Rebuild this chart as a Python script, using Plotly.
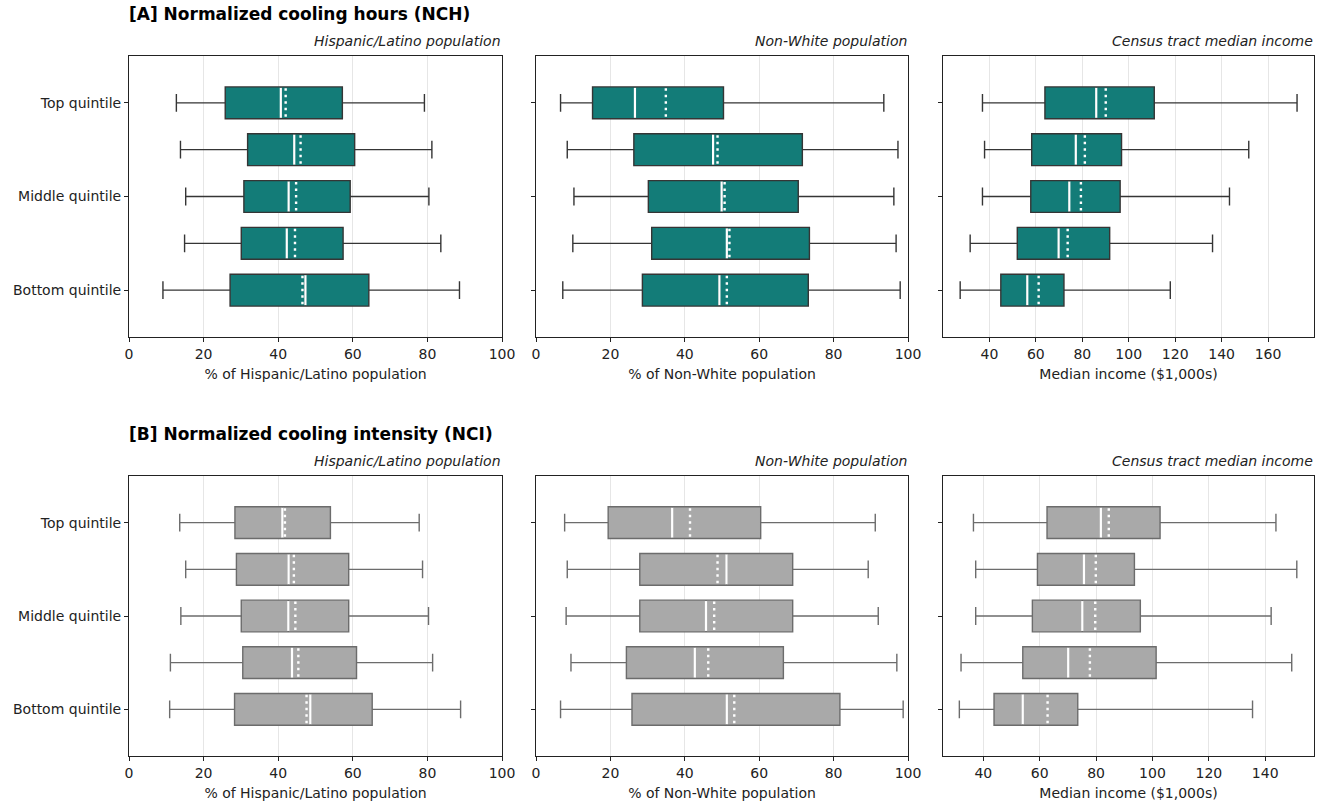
import plotly.graph_objects as go

# ---------------- data ----------------
positions = [1, 2, 3, 4, 5]  # Top quintile ... Bottom quintile
tick_pos = [1, 3, 5]
tick_labels = ["Top quintile", "Middle quintile", "Bottom quintile"]

# [A] NCH - Hispanic/Latino
a_hisp_low = [12.7, 13.8, 15.2, 14.9, 9.1]
a_hisp_q1 = [25.8, 31.8, 30.8, 30.1, 27.1]
a_hisp_med = [40.7, 44.3, 42.8, 42.3, 47.3]
a_hisp_mean = [42.0, 46.0, 44.8, 44.5, 46.5]
a_hisp_q3 = [57.2, 60.5, 59.3, 57.4, 64.3]
a_hisp_high = [79.2, 81.2, 80.4, 83.6, 88.6]

# [A] NCH - Non-White
a_nw_low = [6.6, 8.4, 10.2, 9.9, 7.2]
a_nw_q1 = [15.2, 26.3, 30.2, 31.1, 28.6]
a_nw_med = [26.6, 47.6, 49.9, 51.3, 49.3]
a_nw_mean = [34.9, 48.8, 50.7, 52.0, 51.3]
a_nw_q3 = [50.4, 71.6, 70.5, 73.5, 73.2]
a_nw_high = [93.5, 97.3, 96.2, 96.8, 97.9]

# [A] NCH - Median income
a_inc_low = [37.0, 37.9, 37.0, 31.7, 27.4]
a_inc_q1 = [63.9, 58.2, 57.8, 52.0, 44.9]
a_inc_med = [86.0, 77.2, 74.4, 69.8, 56.3]
a_inc_mean = [90.1, 81.1, 79.4, 73.7, 61.2]
a_inc_q3 = [111.0, 96.9, 96.3, 91.8, 72.1]
a_inc_high = [172.5, 151.7, 143.4, 136.1, 117.9]

# [B] NCI - Hispanic/Latino
b_hisp_low = [13.6, 15.2, 13.9, 11.1, 10.9]
b_hisp_q1 = [28.4, 28.8, 30.1, 30.5, 28.3]
b_hisp_med = [41.1, 42.8, 42.7, 43.7, 48.6]
b_hisp_mean = [41.8, 44.2, 44.6, 45.4, 47.6]
b_hisp_q3 = [54.0, 58.9, 58.9, 61.0, 65.2]
b_hisp_high = [77.8, 78.7, 80.3, 81.4, 88.9]

# [B] NCI - Non-White
b_nw_low = [7.7, 8.4, 8.1, 9.4, 6.6]
b_nw_q1 = [19.4, 27.9, 27.9, 24.3, 25.8]
b_nw_med = [36.6, 51.2, 45.7, 42.7, 51.3]
b_nw_mean = [41.4, 48.8, 47.9, 46.3, 53.3]
b_nw_q3 = [60.4, 69.0, 69.0, 66.5, 81.7]
b_nw_high = [91.2, 89.3, 92.0, 97.0, 98.7]

# [B] NCI - Median income
b_inc_low = [36.5, 37.3, 37.3, 32.1, 31.5]
b_inc_q1 = [62.6, 59.2, 57.4, 54.0, 43.8]
b_inc_med = [81.7, 75.7, 75.1, 70.1, 54.0]
b_inc_mean = [84.5, 79.9, 79.7, 77.8, 62.8]
b_inc_q3 = [102.7, 93.6, 95.7, 101.3, 73.5]
b_inc_high = [143.8, 151.2, 142.1, 149.4, 135.5]

panel_titles = ["Hispanic/Latino population", "Non-White population", "Census tract median income"]
x_titles = ["% of Hispanic/Latino population", "% of Non-White population", "Median income ($1,000s)"]
row_titles = ["[A] Normalized cooling hours (NCH)", "[B] Normalized cooling intensity (NCI)"]

# ---------------- style ----------------
FONT = "DejaVu Sans"
W, H = 1325, 804
TEAL = "#137C78"
TEAL_LINE = "#353535"
GRAY = "#A9A9A9"
GRAY_LINE = "#6c6c6c"
BOX_W = 0.68
FS = 14

col_px = [(129, 502), (536, 908), (943, 1314)]
row_px = [(56, 337), (476, 756)]
x_ranges = [[0, 100], [0, 100], [20.0, 179.8], [0, 100], [0, 100], [25.7, 157.3]]
x_ticks = [[0, 20, 40, 60, 80, 100], [0, 20, 40, 60, 80, 100], [40, 60, 80, 100, 120, 140, 160],
           [0, 20, 40, 60, 80, 100], [0, 20, 40, 60, 80, 100], [40, 60, 80, 100, 120, 140]]


def px_x(p):
    return p / W


def px_y(p):
    return 1 - p / H


panels = [
    (a_hisp_low, a_hisp_q1, a_hisp_med, a_hisp_mean, a_hisp_q3, a_hisp_high),
    (a_nw_low, a_nw_q1, a_nw_med, a_nw_mean, a_nw_q3, a_nw_high),
    (a_inc_low, a_inc_q1, a_inc_med, a_inc_mean, a_inc_q3, a_inc_high),
    (b_hisp_low, b_hisp_q1, b_hisp_med, b_hisp_mean, b_hisp_q3, b_hisp_high),
    (b_nw_low, b_nw_q1, b_nw_med, b_nw_mean, b_nw_q3, b_nw_high),
    (b_inc_low, b_inc_q1, b_inc_med, b_inc_mean, b_inc_q3, b_inc_high),
]

fig = go.Figure()
layout = dict(
    width=W, height=H, margin=dict(l=0, r=0, t=0, b=0),
    paper_bgcolor="white", plot_bgcolor="white", showlegend=False,
    font=dict(family=FONT, size=FS, color="#222"),
)
annotations = []

for i, (low, q1, med, mean, q3, high) in enumerate(panels):
    r, c = divmod(i, 3)
    n = i + 1
    xa = "x" if n == 1 else f"x{n}"
    ya = "y" if n == 1 else f"y{n}"
    fill = TEAL if r == 0 else GRAY
    edge = TEAL_LINE if r == 0 else GRAY_LINE

    fig.add_trace(go.Box(
        y=positions, q1=q1, median=med, q3=q3, lowerfence=low, upperfence=high,
        orientation="h", width=BOX_W, whiskerwidth=0.56,
        fillcolor=fill, line=dict(color=edge, width=1.4),
        boxpoints=False, xaxis=xa, yaxis=ya, hoverinfo="skip",
    ))
    # median (solid white) and mean (dotted white)
    mx, my, ax_, ay_ = [], [], [], []
    for p, m, mu in zip(positions, med, mean):
        mx += [m, m, None]
        my += [p - BOX_W / 2 + 0.02, p + BOX_W / 2 - 0.02, None]
        ax_ += [mu, mu, None]
        ay_ += [p - BOX_W / 2 + 0.03, p + BOX_W / 2 - 0.03, None]
    fig.add_trace(go.Scatter(x=mx, y=my, mode="lines", line=dict(color="white", width=2.2),
                             xaxis=xa, yaxis=ya, hoverinfo="skip"))
    fig.add_trace(go.Scatter(x=ax_, y=ay_, mode="lines",
                             line=dict(color="white", width=2.4, dash="2.5px,4px"),
                             xaxis=xa, yaxis=ya, hoverinfo="skip"))

    x0, x1 = col_px[c]
    y0, y1 = row_px[r]
    key_x = "xaxis" if n == 1 else f"xaxis{n}"
    key_y = "yaxis" if n == 1 else f"yaxis{n}"
    layout[key_x] = dict(
        domain=[px_x(x0), px_x(x1)], anchor=ya, range=x_ranges[i], automargin=False,
        tickvals=x_ticks[i], ticks="outside", ticklen=4, tickcolor="#222",
        showgrid=True, gridcolor="#e6e6e6", gridwidth=1, zeroline=False,
        showline=True, linecolor="#222", linewidth=1, mirror=True,
        tickfont=dict(size=FS, color="#222"),
        title=dict(text=x_titles[c], font=dict(size=FS, color="#222"), standoff=8),
    )
    layout[key_y] = dict(
        domain=[px_y(y1), px_y(y0)], anchor=xa, range=[6, 0], automargin=False,
        tickvals=tick_pos, ticktext=tick_labels if c == 0 else ["", "", ""],
        ticks="outside", ticklen=4, tickcolor="#222", showgrid=False, zeroline=False,
        showline=True, linecolor="#222", linewidth=1, mirror=True,
        tickfont=dict(size=FS, color="#222"),
    )
    annotations.append(dict(
        text=f"<i>{panel_titles[c]}</i>", x=px_x(x1 + 1), y=px_y(y0 - 5),
        xref="paper", yref="paper", xanchor="right", yanchor="bottom", showarrow=False,
        font=dict(size=FS, color="#222"),
    ))

for r, t in enumerate(row_titles):
    annotations.append(dict(
        text=f"<b>{t}</b>", x=px_x(127), y=px_y(row_px[r][0] - 30),
        xref="paper", yref="paper", xanchor="left", yanchor="bottom", showarrow=False,
        font=dict(size=17, color="black"),
    ))

layout["annotations"] = annotations
fig.update_layout(**layout)
fig.write_html(
    "out.html",
    config={"displayModeBar": False},
    post_script="document.body.style.margin='0px';document.body.style.overflow='hidden';",
)
